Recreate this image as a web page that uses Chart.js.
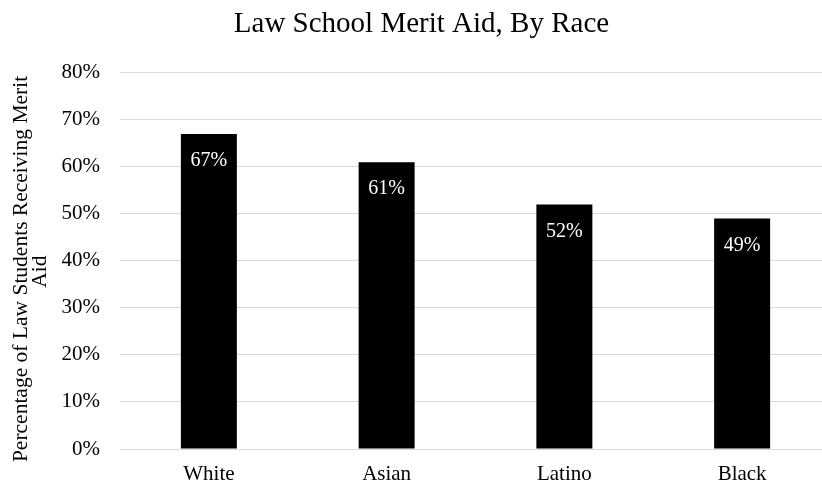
<!DOCTYPE html>
<html>
<head>
<meta charset="utf-8">
<script src="https://cdn.jsdelivr.net/npm/chart.js@4"></script>
<style>
  html, body { margin: 0; padding: 0; background: #fff; overflow: hidden; }
  #wrap { width: 833px; height: 485px; }
</style>
</head>
<body>
<div id="wrap"><canvas id="meritChart"></canvas></div>
<script>
// values
const races = ['White', 'Asian', 'Latino', 'Black'];
const meritAidPct = [67, 61, 52, 49];
const yTicks = [0, 10, 20, 30, 40, 50, 60, 70, 80];

const serif = '"Liberation Serif", "Times New Roman", serif';

// white value labels just inside the top of each bar
const barLabels = {
  id: 'barLabels',
  afterDatasetsDraw(chart) {
    const ctx = chart.ctx;
    const meta = chart.getDatasetMeta(0);
    ctx.save();
    ctx.fillStyle = '#ffffff';
    ctx.font = '20px ' + serif;
    ctx.textAlign = 'center';
    ctx.textBaseline = 'middle';
    meta.data.forEach((bar, i) => {
      ctx.fillText(meritAidPct[i] + '%', bar.x, bar.y + 27);
    });
    ctx.restore();
  }
};

new Chart(document.getElementById('meritChart'), {
  type: 'bar',
  data: {
    labels: races,
    datasets: [{
      data: meritAidPct,
      backgroundColor: '#000000',
      borderWidth: 0,
      categoryPercentage: 1,
      barPercentage: 0.315
    }]
  },
  plugins: [barLabels],
  options: {
    responsive: true,
    maintainAspectRatio: false,
    animation: false,
    layout: { padding: { left: 12, right: 2, top: 7, bottom: 0 } },
    plugins: {
      legend: { display: false },
      tooltip: { enabled: false },
      title: {
        display: true,
        text: 'Law School Merit Aid, By Race',
        color: '#000000',
        font: { family: serif, size: 29, weight: 'normal' },
        padding: { top: 0, bottom: 31 }
      }
    },
    scales: {
      x: {
        grid: { display: false, drawTicks: false },
        border: { display: true, color: '#d9d9d9', width: 1 },
        ticks: {
          color: '#000000',
          font: { family: serif, size: 21 },
          padding: 13
        },
        afterFit(axis) { axis.height = 36; }
      },
      y: {
        min: 0,
        max: 80,
        afterBuildTicks(axis) {
          axis.ticks = yTicks.map(v => ({ value: v }));
        },
        grid: { color: '#d9d9d9', drawTicks: false },
        border: { display: false },
        ticks: {
          color: '#000000',
          font: { family: serif, size: 21 },
          padding: 20,
          callback: v => v + '%'
        },
        title: {
          display: true,
          // trailing spaces nudge the rotated title slightly downward
          text: ['Percentage of Law Students Receiving Merit   ', 'Aid    '],
          color: '#000000',
          font: { family: serif, size: 21.5, lineHeight: 0.88 },
          padding: { top: 0, bottom: 0 }
        },
        afterFit(axis) { axis.width = 108; }
      }
    }
  }
});
</script>
</body>
</html>
